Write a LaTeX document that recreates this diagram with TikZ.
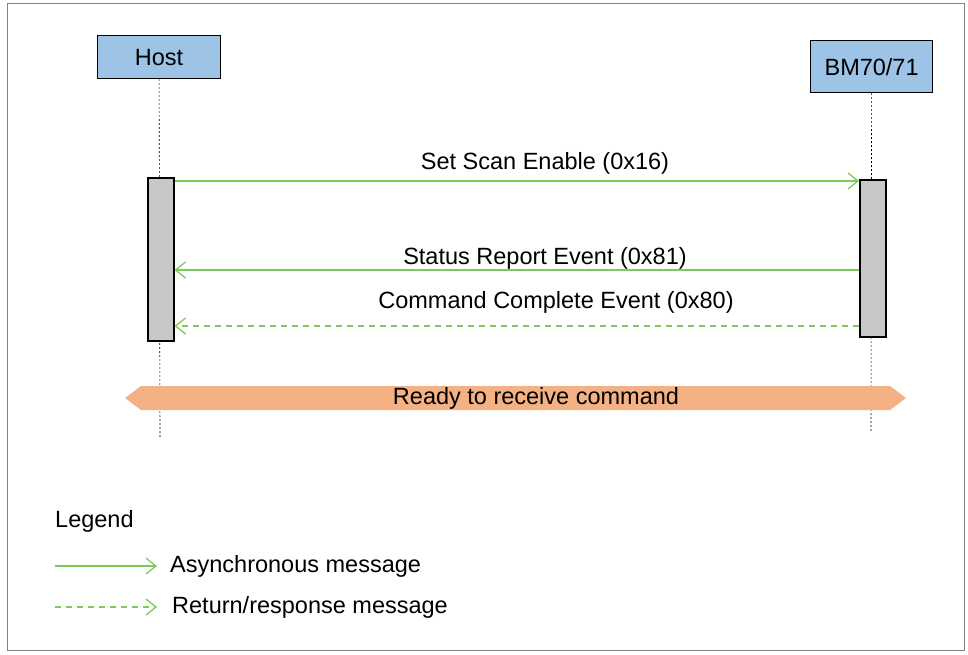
\documentclass[tikz,border=0pt]{standalone}
\usepackage{fontspec}
\setmainfont{Liberation Sans}
\usetikzlibrary{arrows.meta}
\definecolor{hbox}{HTML}{9DC3E6}
\definecolor{grn}{HTML}{7DC95A}
\definecolor{org}{HTML}{F4B183}
\definecolor{bar}{HTML}{C8C8C8}
\begin{document}
\begin{tikzpicture}[x=1pt,y=-1pt,
  lbl/.style={font=\fontsize{23.5}{26}\selectfont, inner sep=0},
  actor/.style={draw=black, fill=hbox, line width=1.2pt, anchor=north west, inner sep=0, lbl},
  life/.style={draw=black, line width=0.6pt, dash pattern=on 2pt off 2pt},
  act/.style={draw=black, fill=bar, line width=2pt},
  msg/.style={draw=grn, line width=1.3pt, -{Straight Barb[length=10pt,width=16pt]}},
  ret/.style={msg, dash pattern=on 6pt off 5pt}]
\useasboundingbox (0,0) rectangle (968,654);
\draw[gray, line width=1pt] (7,3) rectangle (964,650);
% actors
\node[actor, minimum width=123, minimum height=43] (host) at (97,35) {Host};
\node[actor, minimum width=122, minimum height=52] (bm) at (810,40) {BM70/71};
\coordinate (hend) at (160,437);
\coordinate (bend) at (871,432);
\draw[life] (host.south) -- (hend);
\draw[life] (bm.south) -- (bend);
% activation bars
\node[act, minimum width=26, minimum height=163, inner sep=0] (hbar) at (160.5,259.5) {};
\node[act, minimum width=26, minimum height=157, inner sep=0] (bbar) at (873,258.5) {};
% messages
\draw[msg] (hbar.east |- 0,181) -- (bbar.west |- 0,181);
\node[lbl] (m1) at (545,163) {Set Scan Enable (0x16)};
\draw[msg] (bbar.west |- 0,270) -- (hbar.east |- 0,270);
\node[lbl] (m2) at (545,258) {Status Report Event (0x81)};
\draw[ret] (bbar.west |- 0,326) -- (hbar.east |- 0,326);
\node[lbl] (m3) at (556,302) {Command Complete Event (0x80)};
% band
\fill[org] (125,398) -- (141,386) -- (890,386) -- (906,398) -- (890,410) -- (141,410) -- cycle;
\node[lbl] (rd) at (536,398) {Ready to receive command};
% legend
\node[lbl, anchor=west] (leg) at (55,521) {Legend};
\coordinate (l1a) at (55,566); \coordinate (l1b) at (157,566);
\coordinate (l2a) at (55,607); \coordinate (l2b) at (157,607);
\draw[msg] (l1a) -- (l1b);
\draw[ret] (l2a) -- (l2b);
\node[lbl, anchor=west] (t1) at (170,566) {Asynchronous message};
\node[lbl, anchor=west] (t2) at (172,607) {Return/response message};
\end{tikzpicture}
\end{document}
